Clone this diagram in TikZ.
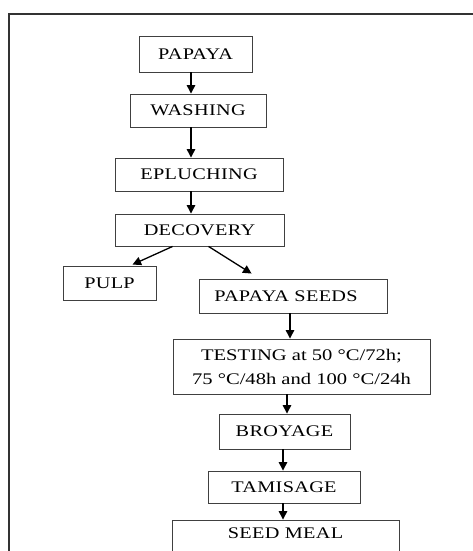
\documentclass[tikz,border=0pt]{standalone}
\usepackage{fontspec}
\setmainfont{Liberation Serif}[FakeStretch=1.25,LetterSpace=2]
\newfontfamily\plainserif{Liberation Serif}[FakeStretch=1.27]
\usetikzlibrary{arrows.meta,calc}
\begin{document}
\begin{tikzpicture}[x=1pt,y=-1pt,
  box/.style={draw=black!75,line width=0.9pt,rectangle,inner sep=0pt,
    font=\fontsize{16.2}{24}\selectfont,align=center},
  arr/.style={draw=black,line width=1.3pt,-{Triangle[width=8.5pt,length=8.5pt]}},
  frame/.style={draw=black!80,line width=1.3pt}]
\clip (0,0) rectangle (473,551);
\draw[frame] (9,551) -- (9,14) -- (473,14);
\node[box,minimum width=113pt,minimum height=36pt] (papaya) at (195.5,54) {PAPAYA};
\node[box,minimum width=136pt,minimum height=33pt] (washing) at (198,110.5) {WASHING};
\node[box,minimum width=168pt,minimum height=33pt] (epl) at (199,174.5) {EPLUCHING};
\node[box,minimum width=169pt,minimum height=32pt] (dec) at (199.5,230) {DECOVERY};
\node[box,minimum width=93pt,minimum height=34pt] (pulp) at (109.5,283) {PULP};
\node[box,minimum width=188pt,minimum height=34pt] (seeds) at (293,296) {PAPAYA SEEDS\hspace{14pt}};
\node[box,minimum width=257pt,minimum height=55pt,font=\plainserif\fontsize{16.2}{24}\selectfont] (test) at (301.5,366.5) {TESTING at 50 °C/72h;\\75 °C/48h and 100 °C/24h};
\node[box,minimum width=131pt,minimum height=35pt] (broy) at (284.5,431.5) {BROYAGE};
\node[box,minimum width=152pt,minimum height=32pt] (tam) at (284,487) {TAMISAGE};
\node[box,minimum width=227pt,minimum height=50pt,text depth=23pt] (meal) at (285.5,545) {SEED MEAL};
\coordinate (c1) at (191,0);
\coordinate (c2) at (290,0);
\coordinate (c3) at (287,0);
\coordinate (c4) at (283,0);
\draw[arr] (papaya.south -| c1) -- (washing.north -| c1);
\draw[arr] (washing.south -| c1) -- (epl.north -| c1);
\draw[arr] (epl.south -| c1) -- (dec.north -| c1);
\draw[arr] ($(dec.south west)+(58,0)$) -- ($(pulp.north west)+(70,-1)$);
\coordinate (se) at ($(seeds.north west)+(53,-5)$);
\draw[arr] ($(dec.south west)+(94,0)$) -- (se);
\draw[arr] (seeds.south -| c2) -- (test.north -| c2);
\draw[arr] (test.south -| c3) -- (broy.north -| c3);
\draw[arr] (broy.south -| c4) -- (tam.north -| c4);
\draw[arr] (tam.south -| c4) -- (meal.north -| c4);
\end{tikzpicture}
\end{document}
